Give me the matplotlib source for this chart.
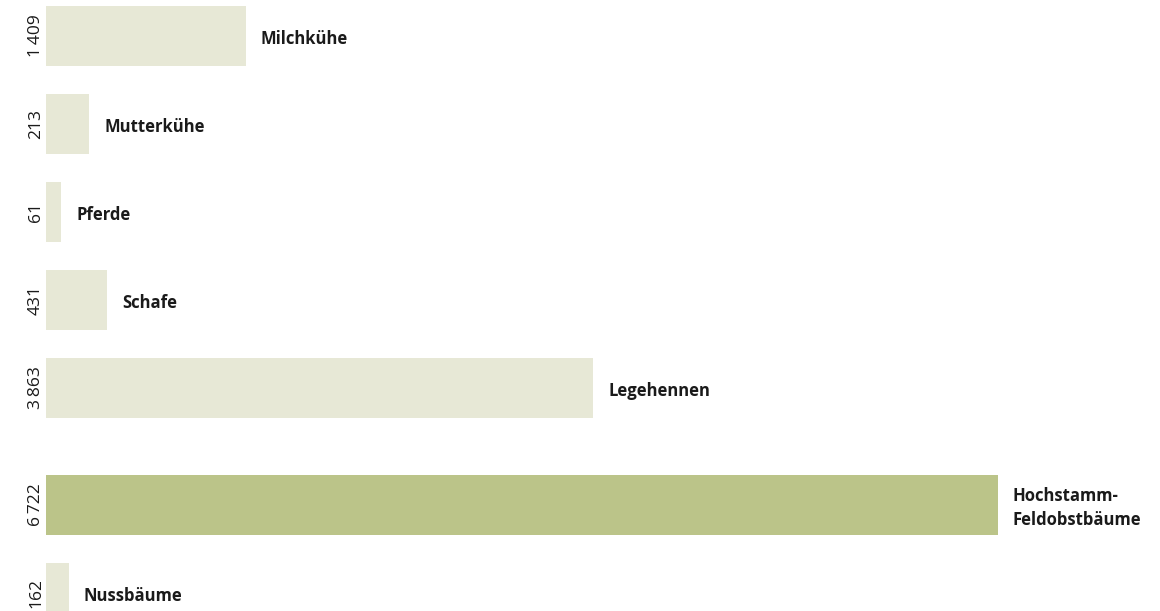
import numpy as np
import matplotlib.pyplot as plt

plt.rcParams['font.family'] = ['Open Sans', 'DejaVu Sans']

# data
categories = ['Milchkühe', 'Mutterkühe', 'Pferde', 'Schafe', 'Legehennen',
              'Hochstamm-\nFeldobstbäume', 'Nussbäume']
values = [1409, 213, 61, 431, 3863, 6722, 162]
# bar lengths as drawn in the source (small bars are drawn with a minimum width)
bar_lengths = [1409, 304, 106, 431, 3863, 6722, 162]
value_labels = ['1\u2009409', '213', '61', '431', '3\u2009863', '6\u2009722', '162']
highlight = 'Hochstamm-\nFeldobstbäume'

light = '#E7E8D6'
green = '#BBC489'

fig = plt.figure(figsize=(11.6, 6.11), dpi=100)
ax = fig.add_axes([0, 0, 1, 1])

# extra gap before the highlighted group
y = np.arange(len(categories), dtype=float)
y[5:] += 0.33

colors = [green if c == highlight else light for c in categories]
ax.barh(y, bar_lengths, height=0.68, color=colors)

for yi, v, lab, cat in zip(y, bar_lengths, value_labels, categories):
    ax.annotate(lab, xy=(0, yi), xytext=(-10, 0), textcoords='offset pixels',
                rotation=90, ha='center', va='center', fontsize=12.5, color='#1a1a1a')
    ax.annotate(cat, xy=(v, yi), xytext=(15, -3), textcoords='offset pixels',
                ha='left', va='center', fontsize=12, fontweight='bold',
                color='#1a1a1a', linespacing=1.4)

px = 0.1416  # pixels per unit
ax.set_xlim(-46 / px, (1160 - 46) / px)
ax.set_ylim((611 - 36) / 88, -36 / 88)
ax.axis('off')

fig.savefig('out.png', dpi=100)
